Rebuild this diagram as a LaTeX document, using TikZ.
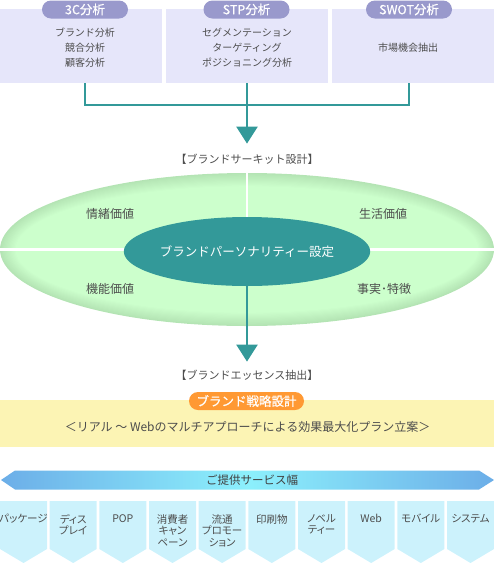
\documentclass[tikz,border=0pt]{standalone}
\usepackage{fontspec}
\setmainfont{Noto Sans CJK JP}
\newfontfamily\jpp{Noto Sans CJK JP}[RawFeature=+palt]
\newfontfamily\medf{Noto Sans CJK JP}[FakeBold=0.6]
\usetikzlibrary{arrows.meta,shapes.geometric}
\definecolor{lav}{HTML}{E6E6FA}
\definecolor{pillc}{HTML}{9999CC}
\definecolor{tealc}{HTML}{339999}
\definecolor{gIn}{HTML}{CCFFCC}
\definecolor{gOut}{HTML}{B4E4B4}
\definecolor{orng}{HTML}{FF9933}
\definecolor{yel}{HTML}{FCF4B4}
\definecolor{svc}{HTML}{CCF2FC}
\definecolor{bandA}{HTML}{6CAEE8}
\definecolor{bandB}{HTML}{8CF0FC}
\definecolor{txtg}{HTML}{4D4D4D}
\tikzset{
  base/.style={inner sep=0pt, text=txtg},
  boxbg/.style={base, fill=lav, minimum width=162pt, minimum height=74pt},
  pill/.style={base, fill=pillc, text=white, rounded corners=9pt, minimum width=86pt, minimum height=18pt, font=\medf\fontsize{12.5}{14}\selectfont},
  boxtxt/.style={base, align=center, font=\fontsize{10}{15}\selectfont},
  conn/.style={draw=tealc, line width=2.5pt, line join=miter},
  tip/.style={-{Triangle[width=21pt,length=17pt]}},
  mid/.style={base, font=\fontsize{11}{13}\selectfont},
  vlabel/.style={base, font=\fontsize{12}{14}\selectfont},
  svctext/.style={base, align=center, anchor=north, font=\jpp\fontsize{10.5}{11.7}\selectfont},
}
\begin{document}
\begin{tikzpicture}[x=1pt,y=-1pt]
\useasboundingbox (0,0) rectangle (494,563);
% top boxes
\node[boxbg] (b1) at (81,46) {};
\node[boxbg] (b2) at (247,46) {};
\node[boxbg] (b3) at (413,46) {};
\node[pill] (p1) at (85,9.5) {3C分析};
\node[pill] (p2) at (246.5,9.5) {STP分析};
\node[pill] (p3) at (409,9.5) {SWOT分析};
\node[boxtxt] (t1) at (85,48) {ブランド分析\\競合分析\\顧客分析};
\node[boxtxt] (t2) at (247,48) {セグメンテーション\\ターゲティング\\ポジショニング分析};
\node[boxtxt] (t3) at (408,48) {市場機会抽出};
% connectors
\coordinate (j) at (247,105);
\draw[conn] (p1 |- b1.south) |- (p3 |- j) -- (p3 |- b3.south);
\draw[conn] (b2.south) -- (j);
\node[mid] (c1) at (247,159) {【ブランドサーキット設計】};
\draw[conn, tip, shorten >=10pt] (j) -- (c1.north);
% green ellipse
\node[ellipse, minimum width=494pt, minimum height=153pt, inner sep=0pt] (ge) at (247,249.5) {};
\foreach \k in {0,...,12} {
  \pgfmathsetmacro\pc{100-\k*100/12}
  \fill[gOut!\pc!gIn] (ge.center) ellipse [x radius={247pt-\k*1.3pt}, y radius={76.5pt-\k*1.1pt}];
}
\draw[white, line width=2.5pt] (ge.north) -- (ge.center);
\draw[white, line width=2.5pt] (ge.west) -- (ge.east);
\node[ellipse, fill=tealc, minimum width=234pt, minimum height=69pt, inner sep=0pt, text=white, font=\fontsize{12.5}{14}\selectfont] (ce) at (247,251.5) {ブランドパーソナリティー設定};
\node[vlabel] (v1) at (110,214) {情緒価値};
\node[vlabel] (v2) at (383,214) {生活価値};
\node[vlabel] (v3) at (110,289) {機能価値};
\node[vlabel] (v4) at (384,289) {事実･特徴};
% second arrow
\node[mid] (c2) at (247,375) {【ブランドエッセンス抽出】};
\draw[conn, tip, shorten >=8pt] (ce.south) -- (c2.north);
% yellow band
\node[base, fill=yel, minimum width=494pt, minimum height=47pt] (yb) at (247,423.5) {};
\node[base, fill=orng, text=white, rounded corners=9pt, minimum width=115pt, minimum height=18pt, font=\medf\fontsize{12.5}{14}\selectfont] (op) at (246.5,401) {ブランド戦略設計};
\node[base, font=\fontsize{12}{14}\selectfont] (yt) at (247.5,427) {＜リアル ～ Webのマルチアプローチによる効果最大化プラン立案＞};
% blue band
\shade[left color=bandA, right color=bandA, middle color=bandB] (1,480) -- (15,470.5) -- (479,470.5) -- (494,480) -- (479,489.5) -- (15,489.5) -- cycle;
\node[base, text=black!75, font=\fontsize{11.5}{14}\selectfont] (bt) at (252,480) {ご提供サービス幅};
% service boxes
\foreach \i/\t in {0/{パッケージ},1/{ディス\\プレイ},2/{POP},3/{消費者\\キャン\\ペーン},4/{流通\\プロモー\\ション},5/{印刷物},6/{ノベル\\ティー},7/{Web},8/{モバイル},9/{システム}} {
  \pgfmathsetmacro\xl{\i*49.667}
  \fill[svc] (\xl,501) -- ++(47,0) -- ++(0,48) -- ++(-23.5,14) -- ++(-23.5,-14) -- cycle;
  \node[svctext] (s\i) at (\xl+23.5,514) {\t};
}
\end{tikzpicture}
\end{document}
